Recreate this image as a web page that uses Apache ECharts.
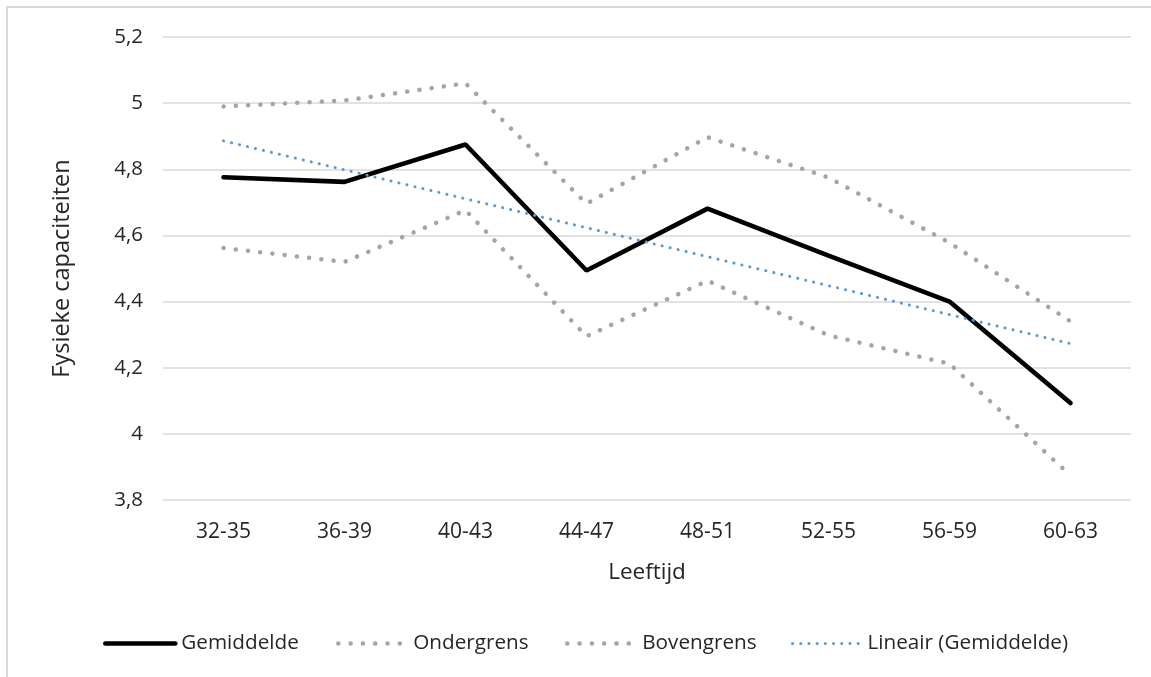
<!DOCTYPE html>
<html>
<head>
<meta charset="utf-8">
<script src="https://cdn.jsdelivr.net/npm/echarts@6/dist/echarts.min.js"></script>
<style>html,body{margin:0;padding:0;background:#fff}#c{width:1151px;height:677px}</style>
</head>
<body>
<div id="c"></div>
<script>
const categories = ['32-35','36-39','40-43','44-47','48-51','52-55','56-59','60-63'];
const gemiddelde = [4.776, 4.762, 4.875, 4.494, 4.681, 4.539, 4.400, 4.093];
const ondergrens = [4.562, 4.520, 4.676, 4.295, 4.463, 4.298, 4.212, 3.874];
const bovengrens = [4.990, 5.008, 5.060, 4.696, 4.897, 4.775, 4.578, 4.340];
// trend line read at its two ends (straight line between them)
const lineair = [4.886, null, null, null, null, null, null, 4.273];
const yTicks = {min: 3.8, max: 5.2, interval: 0.2};

const FONT = '"Open Sans", "Noto Sans", sans-serif';
const TXT = '#262626';
const chart = echarts.init(document.getElementById('c'), null, {renderer: 'canvas'});

const grayDots = {color: '#A5A5A5', width: 4.5, type: [0.1, 12.2], cap: 'round'};
const blueDots = {color: '#5B9BD5', width: 3, type: [0.1, 8.1], cap: 'round'};
const blackLine = {color: '#000000', width: 4.6, type: 'solid', cap: 'round'};

function legendAt(name, left, w, ls) {
  return {
    data: [name], left: left, top: 633, itemWidth: w, itemHeight: 24, padding: 0,
    textStyle: {fontFamily: FONT, fontSize: 20.7, color: TXT, padding: [0, 0, 0, 1]},
    itemStyle: {opacity: 0},
    lineStyle: {width: ls.width, type: ls.type, cap: ls.cap, color: ls.color, opacity: 1}
  };
}

chart.setOption({
  animation: false,
  graphic: [{
    type: 'rect', shape: {x: 7, y: 7, width: 1300, height: 800},
    style: {fill: null, stroke: '#D9D9D9', lineWidth: 2}, silent: true
  }],
  grid: {left: 163, right: 20, top: 37, bottom: 177, containLabel: false},
  legend: [
    legendAt('Gemiddelde', 103, 70, blackLine),
    legendAt('Ondergrens', 336, 69, grayDots),
    legendAt('Bovengrens', 565, 69, grayDots),
    legendAt('Lineair (Gemiddelde)', 791, 69, blueDots)
  ],
  xAxis: {
    type: 'category', data: categories, boundaryGap: true,
    axisLine: {show: false}, axisTick: {show: false},
    axisLabel: {fontFamily: FONT, fontSize: 21, color: TXT, margin: 22},
    name: 'Leeftijd', nameLocation: 'middle', nameGap: 61,
    nameTextStyle: {fontFamily: FONT, fontSize: 22.5, color: TXT}
  },
  yAxis: {
    type: 'value', min: yTicks.min, max: yTicks.max, interval: yTicks.interval,
    axisLine: {show: false}, axisTick: {show: false},
    splitLine: {show: true, lineStyle: {color: '#D9D9D9', width: 1.5}},
    axisLabel: {
      fontFamily: FONT, fontSize: 20.5, color: TXT, margin: 20,
      formatter: v => String(+v.toFixed(1)).replace('.', ',')
    },
    name: 'Fysieke capaciteiten', nameLocation: 'middle', nameGap: 89, nameRotate: 90,
    nameTextStyle: {fontFamily: FONT, fontSize: 23.5, color: TXT}
  },
  series: [
    {name: 'Gemiddelde', type: 'line', data: gemiddelde, symbol: 'none', lineStyle: blackLine, itemStyle: {color: '#000'}, z: 3},
    {name: 'Ondergrens', type: 'line', data: ondergrens, symbol: 'none', lineStyle: grayDots, itemStyle: {color: '#A5A5A5'}, z: 2},
    {name: 'Bovengrens', type: 'line', data: bovengrens, symbol: 'none', lineStyle: grayDots, itemStyle: {color: '#A5A5A5'}, z: 2},
    {name: 'Lineair (Gemiddelde)', type: 'line', data: lineair, symbol: 'none', connectNulls: true, lineStyle: blueDots, itemStyle: {color: '#5B9BD5'}, z: 4}
  ]
});
</script>
</body>
</html>
